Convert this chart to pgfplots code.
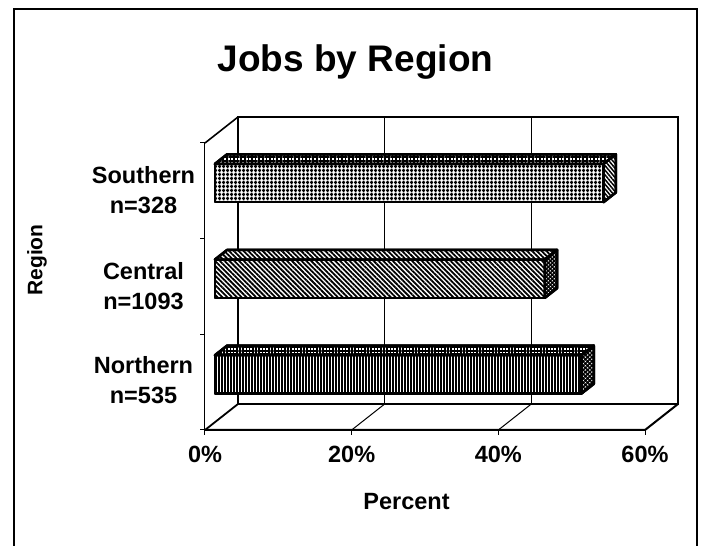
\documentclass[border=0pt]{standalone}
\usepackage{pgfplots}
\pgfplotsset{compat=1.18}
\usetikzlibrary{patterns.meta}
\usepackage{fontspec}
\setmainfont{Liberation Sans}

\tikzset{barface/.style={draw=black, line width=2.5pt, line join=round, preaction={fill=white}}}

% value, z low, z high, front pattern, top pattern, side pattern
\newcommand\barbox[6]{%
  \addplot3[barface, pattern={#4}] coordinates {(0,0.3,#2) (#1,0.3,#2) (#1,0.3,#3) (0,0.3,#3)} -- cycle;
  \addplot3[barface, pattern={#5}] coordinates {(0,0.3,#3) (#1,0.3,#3) (#1,0.67,#3) (0,0.67,#3)} -- cycle;
  \addplot3[barface, pattern={#6}] coordinates {(#1,0.3,#2) (#1,0.67,#2) (#1,0.67,#3) (#1,0.3,#3)} -- cycle;
}

\begin{document}
\begin{tikzpicture}
\begin{axis}[
  x={(7.3333pt,0pt)}, y={(33pt,26pt)}, z={(0pt,95.667pt)},
  xmin=0, xmax=60, ymin=0, ymax=1, zmin=0, zmax=3,
  hide axis, clip=false,
]
\coordinate (O) at (axis cs:0,0,0);
% back wall and floor grid
\draw[line width=1pt] (axis cs:20,1,0) -- (axis cs:20,1,3);
\draw[line width=1pt] (axis cs:40,1,0) -- (axis cs:40,1,3);
\draw[line width=1pt] (axis cs:20,0,0) -- (axis cs:20,1,0);
\draw[line width=1pt] (axis cs:40,0,0) -- (axis cs:40,1,0);
% walls
\draw[line width=1.8pt] (axis cs:0,1,0) -- (axis cs:60,1,0) -- (axis cs:60,1,3) -- (axis cs:0,1,3) -- cycle;
\draw[line width=1.6pt] (axis cs:0,0,3) -- (axis cs:0,1,3);
\draw[line width=1.8pt] (axis cs:0,0,0) -- (axis cs:0,1,0);
\draw[line width=1pt] (axis cs:0,0,0) -- (axis cs:0,0,3);
\draw[line width=2pt] (axis cs:0,0,0) -- (axis cs:60,0,0) -- (axis cs:60,1,0);
% ticks
\draw[line width=1pt] (axis cs:0,0,0) -- ++(0pt,-5pt);
\draw[line width=1pt] (axis cs:20,0,0) -- ++(0pt,-5pt);
\draw[line width=1pt] (axis cs:40,0,0) -- ++(0pt,-5pt);
\draw[line width=1pt] (axis cs:60,0,0) -- ++(0pt,-5pt);
\draw[line width=1pt] (axis cs:0,0,0) -- ++(-5pt,0pt);
\draw[line width=1pt] (axis cs:0,0,1) -- ++(-5pt,0pt);
\draw[line width=1pt] (axis cs:0,0,2) -- ++(-5pt,0pt);
\draw[line width=1pt] (axis cs:0,0,3) -- ++(-5pt,0pt);
% bars (Northern, Central, Southern)
\barbox{50}{0.3}{0.7}{Lines[angle=90,distance=3pt,line width=1.8pt]}{Hatch[angle=0,distance=3.2pt,line width=1.5pt]}{Hatch[angle=45,distance=3pt,line width=1.5pt]}
\barbox{45}{1.3}{1.7}{Lines[angle=-45,distance=3.4pt,line width=1.8pt]}{Lines[angle=-45,distance=3.4pt,line width=1.8pt]}{Hatch[angle=45,distance=2.8pt,line width=1.4pt]}
\barbox{53}{2.3}{2.7}{Hatch[angle=0,distance=4pt,line width=1.7pt]}{Hatch[angle=0,distance=3.6pt,line width=1.6pt]}{Lines[angle=-50,distance=3pt,line width=1.5pt]}
\end{axis}
\pgfresetboundingbox
\begin{scope}[shift={(O)}, x=1pt, y=1pt]
\useasboundingbox (-205,-116) rectangle (497,430);
% frame
\draw[line width=1.5pt] (-191,-116) -- (-191,421) -- (492,421) -- (492,-116);
% title
\node[anchor=base, font=\fontsize{37}{44}\selectfont\bfseries] at (150.5,358) {Jobs by Region};
% category labels
\begin{scope}[every node/.style={align=center, font=\fontsize{23.5}{30}\selectfont\bfseries}]
\node at (-61.5,240) {Southern\\n=328};
\node at (-61.5,144) {Central\\n=1093};
\node at (-61.5,50) {Northern\\n=535};
\end{scope}
% tick labels
\begin{scope}[every node/.style={anchor=base, font=\fontsize{23.5}{28}\selectfont\bfseries}]
\node at (0,-33) {0\%};
\node at (146.7,-33) {20\%};
\node at (293.3,-33) {40\%};
\node at (440,-33) {60\%};
\node at (201.5,-80) {Percent};
\end{scope}
\node[rotate=90, font=\fontsize{21}{25}\selectfont\bfseries] at (-168,170) {Region};
\end{scope}
\end{tikzpicture}
\end{document}
